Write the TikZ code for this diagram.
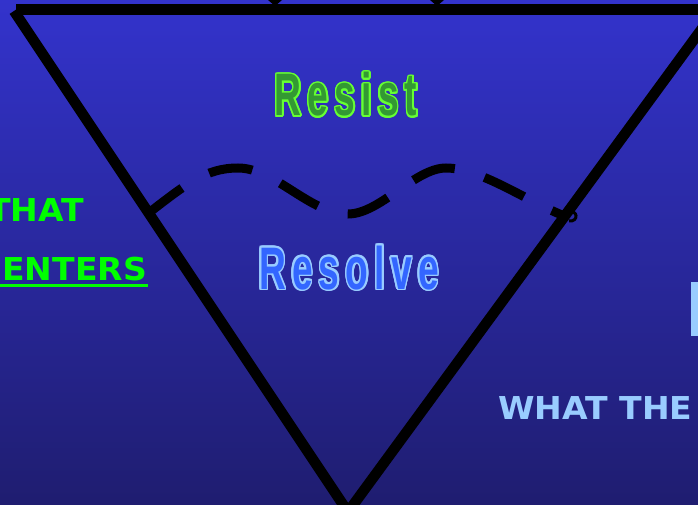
\documentclass[tikz,border=0pt]{standalone}
\usepackage{fontspec}
\usepackage{graphicx}
\newfontfamily\djv{DejaVu Sans}
\newfontfamily\lib{Liberation Sans}
\definecolor{bgtop}{RGB}{51,51,204}
\definecolor{bgbot}{RGB}{31,29,112}
\definecolor{resfill}{RGB}{51,153,51}
\definecolor{resline}{RGB}{102,255,51}
\definecolor{solfill}{RGB}{51,102,255}
\definecolor{solline}{RGB}{153,204,255}
\definecolor{sidegreen}{RGB}{0,255,0}
\definecolor{sideblue}{RGB}{153,204,255}
\newcommand{\lspc}{\kern10pt}
\newcommand{\bigword}[1]{\scalebox{0.62}[1]{\lib\bfseries\fontsize{60}{60}\selectfont #1}}
\newcommand{\sideword}[1]{\scalebox{1.05}[1]{\djv\bfseries\fontsize{31.5}{36}\selectfont #1}}
\tikzset{
  edge/.style={line width=10.5pt, line cap=butt},
  wave/.style={line width=9pt, dash pattern=on 44pt off 31pt, dash phase=74pt},
  bigtxt/.style={inner sep=0pt, anchor=base},
  sidetxt/.style={inner sep=0pt, anchor=base west},
}
\begin{document}
\begin{tikzpicture}[x=1pt,y=-1pt]
\useasboundingbox (0,0) rectangle (698,505);
\shade[top color=bgtop, bottom color=bgbot] (0,0) rectangle (698,505);

% triangle
\coordinate (tl) at (16,9.5);
\coordinate (tr) at (720,9.5);
\coordinate (ltop) at (14,11);
\coordinate (apex) at (348,512);
\coordinate (rtop) at (716,9.5);
\draw[edge] (tl) -- (tr);
\draw[edge] (ltop) -- (apex);
\draw[edge] (rtop) -- (apex);
\fill (268,0) -- (282,0) -- (275,6) -- cycle;
\fill (430,0) -- (444,0) -- (437,6) -- cycle;

% dashed wave
\coordinate (w0) at (146,215);
\coordinate (w6) at (562,215);
\draw[wave] (w0) .. controls (185,185) and (205,168) .. (238,168)
  .. controls (275,168) and (310,214) .. (348,214)
  .. controls (380,214) and (415,168) .. (446,168)
  .. controls (480,168) and (525,200) .. (w6);
\coordinate (hk) at (568,212);
\draw[line width=3pt] (hk) .. controls (578,209) and (579,222) .. (569,221);

% Resist / Resolve
\foreach \a in {0,20,...,340}
  \node[bigtxt, text=resline] (resist-o\a) at ([shift={(\a:1.6)}]346,116) {\bigword{R\lspc e\lspc s\lspc i\lspc s\lspc t}};
\node[bigtxt, text=resfill] (resist) at (346,116) {\bigword{R\lspc e\lspc s\lspc i\lspc s\lspc t}};
\foreach \a in {0,20,...,340}
  \node[bigtxt, text=solline] (resolve-o\a) at ([shift={(\a:1.6)}]349,289) {\bigword{R\lspc e\lspc s\lspc o\lspc l\lspc v\lspc e}};
\node[bigtxt, text=solfill] (resolve) at (349,289) {\bigword{R\lspc e\lspc s\lspc o\lspc l\lspc v\lspc e}};

% side words
\node[sidetxt, text=sidegreen] (that) at (-12,221) {\sideword{THAT}};
\node[sidetxt, text=sidegreen] (enters) at (2,280) {\sideword{ENTERS}};
\draw[sidegreen, line width=2.5pt] ([xshift=-2pt,yshift=-5.5pt]enters.base west) -- ([xshift=1pt,yshift=-5.5pt]enters.base east);
\node[sidetxt, text=sideblue] (what) at (498,419) {\sideword{WHAT THE}};
\fill[sideblue] (691,282) rectangle (698,336);
\end{tikzpicture}
\end{document}
